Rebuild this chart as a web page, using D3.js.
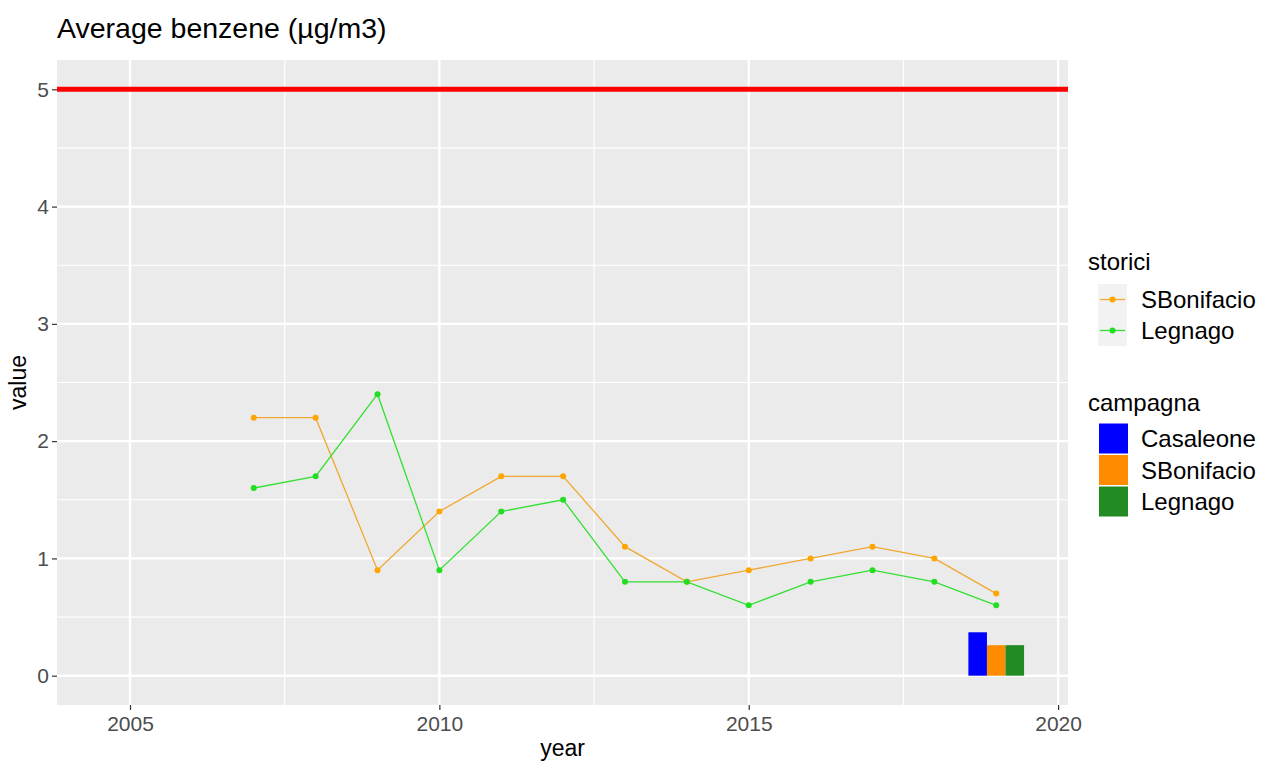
<!DOCTYPE html>
<html>
<head>
<meta charset="utf-8">
<style>
  body { margin: 0; background: #fff; }
  text { font-family: "Liberation Sans", Arial, sans-serif; }
</style>
</head>
<body>
<script src="https://cdn.jsdelivr.net/npm/d3@7"></script>
<script>
// data
var years = [2007, 2008, 2009, 2010, 2011, 2012, 2013, 2014, 2015, 2016, 2017, 2018, 2019];
var sBonifacio = [2.2, 2.2, 0.9, 1.4, 1.7, 1.7, 1.1, 0.8, 0.9, 1.0, 1.1, 1.0, 0.7];
var legnago = [1.6, 1.7, 2.4, 0.9, 1.4, 1.5, 0.8, 0.8, 0.6, 0.8, 0.9, 0.8, 0.6];
var campagnaNames = ["Casaleone", "SBonifacio", "Legnago"];
var campagnaValues = [0.37, 0.26, 0.26];
var campagnaYear = 2019;
var limitValue = 5;
var xTicks = [2005, 2010, 2015, 2020];
var xMinor = [2007.5, 2012.5, 2017.5];
var yTicks = [0, 1, 2, 3, 4, 5];
var yMinor = [0.5, 1.5, 2.5, 3.5, 4.5];

var W = 1264, H = 763;
var panel = { left: 57, right: 1068, top: 60, bottom: 705 };

var svg = d3.select("body").append("svg")
  .attr("width", W).attr("height", H);

var x = d3.scaleLinear().domain([2003.82, 2020.16]).range([panel.left, panel.right]);
var y = d3.scaleLinear().domain([-0.25, 5.25]).range([panel.bottom, panel.top]);

// panel background
svg.append("rect")
  .attr("x", panel.left).attr("y", panel.top)
  .attr("width", panel.right - panel.left).attr("height", panel.bottom - panel.top)
  .attr("fill", "#EBEBEB");

var grid = svg.append("g");
grid.selectAll(".ymin").data(yMinor).enter().append("line")
  .attr("x1", panel.left).attr("x2", panel.right)
  .attr("y1", d => y(d)).attr("y2", d => y(d))
  .attr("stroke", "#fff").attr("stroke-width", 1.2);
grid.selectAll(".xmin").data(xMinor).enter().append("line")
  .attr("y1", panel.top).attr("y2", panel.bottom)
  .attr("x1", d => x(d)).attr("x2", d => x(d))
  .attr("stroke", "#fff").attr("stroke-width", 1.2);
grid.selectAll(".ymaj").data(yTicks).enter().append("line")
  .attr("x1", panel.left).attr("x2", panel.right)
  .attr("y1", d => y(d)).attr("y2", d => y(d))
  .attr("stroke", "#fff").attr("stroke-width", 2.4);
grid.selectAll(".xmaj").data(xTicks).enter().append("line")
  .attr("y1", panel.top).attr("y2", panel.bottom)
  .attr("x1", d => x(d)).attr("x2", d => x(d))
  .attr("stroke", "#fff").attr("stroke-width", 2.4);

// limit line
svg.append("line")
  .attr("x1", panel.left).attr("x2", panel.right)
  .attr("y1", y(limitValue)).attr("y2", y(limitValue))
  .attr("stroke", "#FF0000").attr("stroke-width", 5);

// dodged bars
var barColors = ["#0000FF", "#FF8C00", "#228B22"];
var barW = 0.3;
svg.selectAll(".bar").data(campagnaValues).enter().append("rect")
  .attr("x", (d, i) => x(campagnaYear - 0.45 + i * barW))
  .attr("width", (d, i) => x(campagnaYear - 0.45 + (i + 1) * barW) - x(campagnaYear - 0.45 + i * barW))
  .attr("y", d => y(d))
  .attr("height", d => y(0) - y(d))
  .attr("fill", (d, i) => barColors[i]);

// lines
var seriesList = [
  { name: "SBonifacio", vals: sBonifacio, line: "#F0A830", pt: "#FFA500" },
  { name: "Legnago", vals: legnago, line: "#33E033", pt: "#22DD22" }
];
var lineGen = d3.line().x(d => x(d[0])).y(d => y(d[1]));
seriesList.forEach(function(s) {
  var pts = years.map((yr, i) => [yr, s.vals[i]]);
  svg.append("path").datum(pts)
    .attr("d", lineGen)
    .attr("fill", "none").attr("stroke", s.line).attr("stroke-width", 1.3);
  svg.selectAll(null).data(pts).enter().append("circle")
    .attr("cx", d => x(d[0])).attr("cy", d => y(d[1])).attr("r", 3)
    .attr("fill", s.pt);
});

// axes
var xAxis = svg.append("g").attr("transform", "translate(0," + panel.bottom + ")")
  .call(d3.axisBottom(x).tickValues(xTicks).tickFormat(d3.format("d")).tickSize(5).tickPadding(6));
var yAxis = svg.append("g").attr("transform", "translate(" + panel.left + ",0)")
  .call(d3.axisLeft(y).tickValues(yTicks).tickFormat(d3.format("d")).tickSize(5).tickPadding(3));
[xAxis, yAxis].forEach(function(a) {
  a.select(".domain").remove();
  a.selectAll(".tick line").attr("stroke", "#333").attr("stroke-width", 1.2);
  a.selectAll(".tick text").attr("fill", "#4D4D4D").style("font-size", "21px");
});

// titles
svg.append("text").attr("x", panel.left).attr("y", 38)
  .style("font-size", "28.5px").attr("fill", "#000")
  .text("Average benzene (\u00B5g/m3)");
svg.append("text").attr("x", (panel.left + panel.right) / 2).attr("y", 756)
  .attr("text-anchor", "middle").style("font-size", "23px")
  .text("year");
svg.append("text")
  .attr("transform", "translate(26," + ((panel.top + panel.bottom) / 2) + ") rotate(-90)")
  .attr("text-anchor", "middle").style("font-size", "23px")
  .text("value");

// legends
var lg = svg.append("g");
lg.append("text").attr("x", 1088).attr("y", 270).style("font-size", "24px").text("storici");
seriesList.forEach(function(s, i) {
  var ky = 284 + i * 31;
  lg.append("rect").attr("x", 1098).attr("y", ky).attr("width", 29).attr("height", 31).attr("fill", "#F2F2F2");
  lg.append("line").attr("x1", 1100).attr("x2", 1125).attr("y1", ky + 15.5).attr("y2", ky + 15.5)
    .attr("stroke", s.line).attr("stroke-width", 1.3);
  lg.append("circle").attr("cx", 1112.5).attr("cy", ky + 15.5).attr("r", 3).attr("fill", s.pt);
  lg.append("text").attr("x", 1141).attr("y", ky + 24).style("font-size", "24px").text(s.name);
});
lg.append("text").attr("x", 1088).attr("y", 411).style("font-size", "24px").text("campagna");
campagnaNames.forEach(function(n, i) {
  var ky = 423 + i * 31.5;
  lg.append("rect").attr("x", 1099).attr("y", ky + 0.5).attr("width", 29).attr("height", 30).attr("fill", barColors[i]);
  lg.append("text").attr("x", 1141).attr("y", ky + 24).style("font-size", "24px").text(n);
});
</script>
</body>
</html>
